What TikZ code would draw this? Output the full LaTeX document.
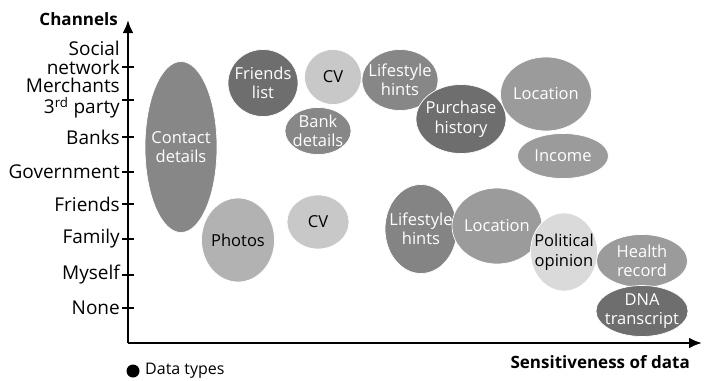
\documentclass[tikz,border=0pt]{standalone}
\usepackage{fontspec}
\setmainfont{Open Sans}
\usetikzlibrary{shapes.geometric,arrows.meta}

\definecolor{darkblob}{HTML}{6E6E6E}
\definecolor{midblob}{HTML}{878787}
\definecolor{greyblob}{HTML}{9B9B9B}
\definecolor{paleblob}{HTML}{B2B2B2}
\definecolor{lightblob}{HTML}{C8C8C8}
\definecolor{whiteblob}{HTML}{DADADA}

\begin{document}
\begin{tikzpicture}[x=1pt,y=-1pt,
        blob/.style={ellipse, draw=white, line width=0.7pt, inner xsep=-14pt, inner ysep=-10pt, align=center, font=\fontsize{16.5}{19.5}\selectfont},
        axislabel/.style={anchor=east, align=right, inner sep=0pt, font=\fontsize{19}{18.5}\selectfont}
        ]
            \useasboundingbox (0,0) rectangle (709,380);

            % axes
            \coordinate (O) at (128,343);
            \coordinate (ytop) at (128,20);
            \coordinate (xend) at (702,343);
            \draw[line width=2.4pt, -{Latex[length=13pt,width=11pt]}] (O) -- (ytop);
            \draw[line width=2.4pt, -{Latex[length=13pt,width=11pt]}] (O) -- (xend);

            \node[anchor=east, inner sep=0pt, font=\fontsize{17}{18}\selectfont\bfseries] (chan) at (118,19) {Channels};
            \node[anchor=east, inner sep=0pt, font=\fontsize{17}{18}\selectfont\bfseries] (sens) at (690,362) {Sensitiveness of data};

            % ticks
            \foreach \y/\n in {67/soc,100/mer,137/ban,172/gov,204/fri,239/fam,275/mys,308/non}{
                \coordinate (t\n l) at (122,\y);
                \coordinate (t\n r) at (134,\y);
                \draw[line width=2pt] (t\n l) -- (t\n r);
            }
            \node[axislabel] (soc) at (120,58) {Social\\network};
            \node[axislabel] (mer) at (120,98) {Merchants\\[2.5pt]3\textsuperscript{rd} party};
            \node[axislabel] (ban) at (120,137) {Banks};
            \node[axislabel] (gov) at (120,172) {Government};
            \node[axislabel] (fri) at (120,204) {Friends};
            \node[axislabel] (fam) at (120,239) {Family};
            \node[axislabel] (mys) at (120,275) {Myself};
            \node[axislabel] (non) at (120,308) {None};

            % data types
            \node[blob, fill=midblob, text=white, minimum width=72pt, minimum height=171pt] (contact) at (181,147) {Contact\\details};
            \node[blob, fill=darkblob, text=white, minimum width=70pt, minimum height=67pt] (friends) at (263,83) {Friends\\list};
            \node[blob, fill=lightblob, minimum width=57pt, minimum height=55pt] (cvtop) at (333,77) {CV};
            \node[blob, fill=midblob, text=white, minimum width=66pt, minimum height=47pt] (bank) at (318,131) {Bank\\details};
            \node[blob, fill=midblob, text=white, minimum width=76pt, minimum height=61pt] (lifetop) at (400,80) {Lifestyle\\hints};
            \node[blob, fill=darkblob, text=white, minimum width=90pt, minimum height=69pt] (purchase) at (461,119) {Purchase\\history};
            \node[blob, fill=greyblob, text=white, minimum width=91pt, minimum height=74pt] (loctop) at (546,94) {Location};
            \node[blob, fill=greyblob, text=white, minimum width=91pt, minimum height=45pt] (income) at (563,156) {Income};

            \node[blob, fill=paleblob, minimum width=73pt, minimum height=84pt] (photos) at (238,240) {Photos};
            \node[blob, fill=lightblob, minimum width=62pt, minimum height=54pt] (cvbot) at (318,222) {CV};
            \node[blob, fill=darkblob!85!white, text=white, minimum width=72pt, minimum height=89pt] (lifebot) at (421,229) {Lifestyle\\hints};
            \node[blob, fill=greyblob, text=white, minimum width=90pt, minimum height=76pt] (locbot) at (497,226) {Location};
            \node[blob, fill=whiteblob, minimum width=67pt, minimum height=78pt] (political) at (564,252) {Political\\opinion};
            \node[blob, fill=greyblob, text=white, minimum width=91pt, minimum height=53pt] (health) at (642,261) {Health\\record};
            \node[blob, fill=darkblob, text=white, minimum width=92pt, minimum height=51pt] (dna) at (642,311) {DNA\\transcript};

            % legend
            \node[circle, fill=black, inner sep=0pt, minimum size=13pt] (legdot) at (133,371) {};
            \node[anchor=west, inner sep=0pt, font=\fontsize{16}{17}\selectfont] (legtxt) at (145,371) {Data types};

        \end{tikzpicture}
\end{document}
